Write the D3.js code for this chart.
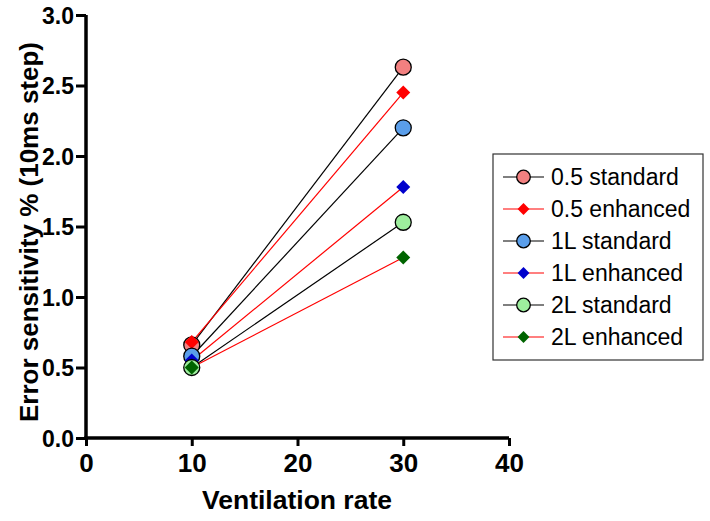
<!DOCTYPE html>
<html><head><meta charset="utf-8">
<script src="https://cdn.jsdelivr.net/npm/d3@7"></script>
<style>body{margin:0;background:#fff}</style>
</head><body>
<svg id="c" width="710" height="521"></svg>
<script>
const xValues = [10, 30];
const seriesNames = ["0.5 standard","0.5 enhanced","1L standard","1L enhanced","2L standard","2L enhanced"];
const s05std = [0.66, 2.63];
const s05enh = [0.68, 2.45];
const s1std = [0.58, 2.20];
const s1enh = [0.55, 1.78];
const s2std = [0.50, 1.53];
const s2enh = [0.50, 1.28];
const xTicks = [0,10,20,30,40];
const yTicks = [0,0.5,1.0,1.5,2.0,2.5,3.0];

const series = [
  {name: seriesNames[0], values: s05std, shape: "circle", fill: "#F28080", line: "#000"},
  {name: seriesNames[1], values: s05enh, shape: "diamond", fill: "#FF0000", line: "#FF0000"},
  {name: seriesNames[2], values: s1std, shape: "circle", fill: "#5A9EEA", line: "#000"},
  {name: seriesNames[3], values: s1enh, shape: "diamond", fill: "#0000CC", line: "#FF0000"},
  {name: seriesNames[4], values: s2std, shape: "circle", fill: "#9EEE9E", line: "#000"},
  {name: seriesNames[5], values: s2enh, shape: "diamond", fill: "#006400", line: "#FF0000"}
];

const svg = d3.select("#c");
const x = d3.scaleLinear().domain([0,40]).range([86,509]);
const y = d3.scaleLinear().domain([0,3]).range([438,15]);

const font = "Liberation Sans, Arial, Helvetica, sans-serif";

// axes
const xa = svg.append("g").attr("transform","translate(0,438)")
  .call(d3.axisBottom(x).tickValues(xTicks).tickFormat(d3.format("d")).tickSize(8).tickSizeOuter(0));
const ya = svg.append("g").attr("transform","translate(86,0)")
  .call(d3.axisLeft(y).tickValues(yTicks).tickFormat(d3.format(".1f")).tickSize(10).tickSizeOuter(0));
[xa,ya].forEach(a=>{
  a.select(".domain").attr("stroke","#000").attr("stroke-width",3.5);
  a.selectAll(".tick line").attr("stroke","#000").attr("stroke-width",3);
  a.selectAll(".tick text").attr("font-family",font).attr("font-weight","bold").attr("fill","#000");
});
xa.selectAll(".tick text").attr("font-size",26).attr("y",15).attr("dy","0.72em");
ya.selectAll(".tick text").attr("font-size",23).attr("x",-12).attr("dy","0.36em");
xa.select(".domain").attr("d", `M${86-1.75},0H${509}`);
ya.select(".domain").attr("d", `M0,${438}V${15}`);

svg.append("text").attr("x",297).attr("y",509).attr("text-anchor","middle")
  .attr("font-family",font).attr("font-weight","bold").attr("font-size",26.5).text("Ventilation rate");
svg.append("text").attr("transform","translate(38,232) rotate(-90)").attr("text-anchor","middle")
  .attr("font-family",font).attr("font-weight","bold").attr("font-size",26).text("Error sensitivity % (10ms step)");

const diamondPath = (r)=>`M0,${-r}L${r},0L0,${r}L${-r},0Z`;

function drawMarker(g, s, scale){
  if(s.shape==="circle"){
    g.append("circle").attr("r",8*scale).attr("fill",s.fill).attr("stroke","#000").attr("stroke-width",1.3);
  } else {
    g.append("path").attr("d",diamondPath(7*scale)).attr("fill",s.fill);
  }
}

const line = d3.line().x((d,i)=>x(xValues[i])).y(d=>y(d));
series.forEach(s=>{
  svg.append("path").attr("d",line(s.values)).attr("fill","none").attr("stroke",s.line).attr("stroke-width",1.2);
});
series.forEach(s=>{
  s.values.forEach((v,i)=>{
    const g = svg.append("g").attr("transform",`translate(${x(xValues[i])},${y(v)})`);
    drawMarker(g,s,1);
  });
});

// legend
const lg = svg.append("g");
lg.append("rect").attr("x",493).attr("y",154).attr("width",210).attr("height",206)
  .attr("fill","#fff").attr("stroke","#333").attr("stroke-width",1.2);
series.forEach((s,i)=>{
  const cy = 177 + i*32;
  lg.append("line").attr("x1",503).attr("x2",544).attr("y1",cy).attr("y2",cy).attr("stroke",s.line).attr("stroke-width",1.2);
  const g = lg.append("g").attr("transform",`translate(523.5,${cy})`);
  drawMarker(g,s,0.85);
  lg.append("text").attr("x",551).attr("y",cy).attr("dy","0.36em").attr("font-family",font)
    .attr("font-size",23).attr("fill","#000").text(s.name);
});
</script>
</body></html>
